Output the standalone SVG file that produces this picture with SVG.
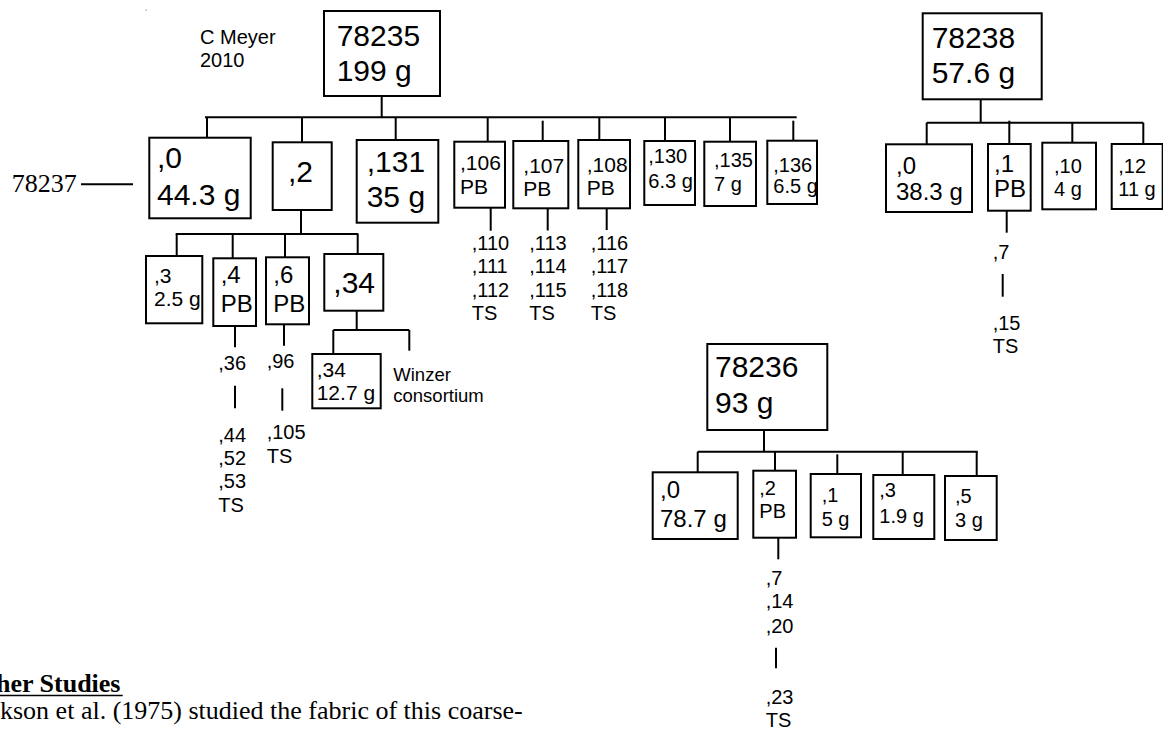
<svg xmlns="http://www.w3.org/2000/svg" width="1163" height="729" viewBox="0 0 1163 729">
<style>
.bx{fill:#fff;stroke:#000;stroke-width:2}
.ln{stroke:#000;stroke-width:2;fill:none}
text{font-family:"Liberation Sans",Arial,sans-serif;fill:#000}
.f30{font-size:30px}
.f24{font-size:24px}
.f21{font-size:21px}
.f20{font-size:20px}
.f18{font-size:18.5px}
.tm{font-family:"Liberation Serif","Times New Roman",serif;font-size:26px}
.tmb{font-family:"Liberation Serif","Times New Roman",serif;font-size:26px;font-weight:bold}
</style>
<rect width="1163" height="729" fill="#fff"/>
<rect x="145.5" y="9.5" width="1.2" height="1.2" fill="#888"/>

<g id="connectors">
  <line class="ln" x1="81" y1="184.3" x2="133" y2="184.3"/>
  <!-- tree 78235 level 1 -->
  <line class="ln" x1="381.7" y1="96" x2="381.7" y2="117.3"/>
  <line class="ln" x1="205" y1="117.3" x2="796.7" y2="117.3"/>
  <line class="ln" x1="207" y1="117.3" x2="207" y2="137.7"/>
  <line class="ln" x1="302" y1="117.3" x2="302" y2="142.3"/>
  <line class="ln" x1="395.7" y1="117.3" x2="395.7" y2="140"/>
  <line class="ln" x1="487.7" y1="117.3" x2="487.7" y2="141.7"/>
  <line class="ln" x1="542.7" y1="120.7" x2="542.7" y2="141"/>
  <line class="ln" x1="599.3" y1="117.3" x2="599.3" y2="140"/>
  <line class="ln" x1="665" y1="117.3" x2="665" y2="141"/>
  <line class="ln" x1="730" y1="117.3" x2="730" y2="141.7"/>
  <line class="ln" x1="793.3" y1="120.7" x2="793.3" y2="140.7"/>
  <line class="ln" x1="490.7" y1="207.7" x2="490.7" y2="230.7"/>
  <line class="ln" x1="547.7" y1="208.3" x2="547.7" y2="230.5"/>
  <line class="ln" x1="606.7" y1="208.3" x2="606.7" y2="230"/>
  <!-- level 2 under ,2 -->
  <line class="ln" x1="301" y1="210" x2="301" y2="234"/>
  <line class="ln" x1="175.7" y1="234" x2="358.3" y2="234"/>
  <line class="ln" x1="176.7" y1="234" x2="176.7" y2="256"/>
  <line class="ln" x1="232.7" y1="234" x2="232.7" y2="258.3"/>
  <line class="ln" x1="285" y1="234" x2="285" y2="257.3"/>
  <line class="ln" x1="357.7" y1="234" x2="357.7" y2="254"/>
  <line class="ln" x1="356.7" y1="310.7" x2="356.7" y2="330"/>
  <line class="ln" x1="333.3" y1="330" x2="409.3" y2="330"/>
  <line class="ln" x1="333.3" y1="330" x2="333.3" y2="354"/>
  <line class="ln" x1="409.3" y1="330" x2="409.3" y2="350.7"/>
  <line class="ln" x1="235" y1="326" x2="235" y2="347.3"/>
  <line class="ln" x1="235" y1="385.7" x2="235" y2="408.3"/>
  <line class="ln" x1="284" y1="324.3" x2="284" y2="345.7"/>
  <line class="ln" x1="282.3" y1="388.3" x2="282.3" y2="410.7"/>
  <!-- tree 78238 -->
  <line class="ln" x1="980.7" y1="99.3" x2="980.7" y2="122.7"/>
  <line class="ln" x1="926.7" y1="122.7" x2="1143.3" y2="122.7"/>
  <line class="ln" x1="926.7" y1="122.7" x2="926.7" y2="144.3"/>
  <line class="ln" x1="1009.3" y1="120.7" x2="1009.3" y2="144"/>
  <line class="ln" x1="1072.3" y1="122.7" x2="1072.3" y2="142.7"/>
  <line class="ln" x1="1143.3" y1="122.7" x2="1143.3" y2="144"/>
  <line class="ln" x1="1006.7" y1="210.7" x2="1006.7" y2="232.7"/>
  <line class="ln" x1="1002.7" y1="274" x2="1002.7" y2="296.7"/>
  <!-- tree 78236 -->
  <line class="ln" x1="764" y1="430" x2="764" y2="451.7"/>
  <line class="ln" x1="697.7" y1="451.7" x2="977.7" y2="451.7"/>
  <line class="ln" x1="697.7" y1="451.7" x2="697.7" y2="472.3"/>
  <line class="ln" x1="775" y1="451.7" x2="775" y2="472.7"/>
  <line class="ln" x1="837.3" y1="454.3" x2="837.3" y2="474"/>
  <line class="ln" x1="902.7" y1="451.7" x2="902.7" y2="475"/>
  <line class="ln" x1="976.7" y1="451.7" x2="976.7" y2="476"/>
  <line class="ln" x1="778.3" y1="537.7" x2="778.3" y2="559.3"/>
  <line class="ln" x1="776" y1="647.7" x2="776" y2="668.3"/>
</g>

<g id="note-meyer"><text class="f20" x="200" y="44">C Meyer</text><text class="f20" x="200" y="66.7">2010</text></g>
<g id="label-78237"><text class="tm" x="11.7" y="191.7">78237</text></g>

<g id="n78235"><rect class="bx" x="324" y="11" width="116" height="85"/><text class="f30" x="336.7" y="46">78235</text><text class="f30" x="336.7" y="81">199 g</text></g>
<g id="n78235-0"><rect class="bx" x="149.3" y="137.7" width="101.4" height="80.6"/><text class="f30" x="157" y="167.7">,0</text><text class="f30" x="157" y="205">44.3 g</text></g>
<g id="n78235-2"><rect class="bx" x="272.7" y="142.3" width="59" height="67.7"/><text class="f30" x="288" y="181.7">,2</text></g>
<g id="n78235-131"><rect class="bx" x="356.7" y="140" width="81.6" height="82.7"/><text class="f30" x="366.7" y="171.7">,131</text><text class="f30" x="366.7" y="207">35 g</text></g>
<g id="n78235-106"><rect class="bx" x="454.3" y="141.7" width="50.7" height="66"/><text class="f21" x="460" y="170">,106</text><text class="f21" x="460" y="194.3">PB</text></g>
<g id="n78235-107"><rect class="bx" x="513.3" y="141" width="55" height="67.3"/><text class="f21" x="523.3" y="172.7">,107</text><text class="f21" x="523.3" y="195.7">PB</text></g>
<g id="n78235-108"><rect class="bx" x="578.3" y="140" width="51.7" height="68.3"/><text class="f21" x="586.7" y="172">,108</text><text class="f21" x="586.7" y="195">PB</text></g>
<g id="n78235-130"><rect class="bx" x="644.3" y="141" width="50.7" height="64"/><text class="f20" x="648.3" y="163.3">,130</text><text class="f20" x="648.3" y="188.3">6.3 g</text></g>
<g id="n78235-135"><rect class="bx" x="704.3" y="141.7" width="51.7" height="64.3"/><text class="f20" x="714" y="166.7">,135</text><text class="f20" x="714" y="190.7">7 g</text></g>
<g id="n78235-136"><rect class="bx" x="767.3" y="140.7" width="49.7" height="63.3"/><text class="f20" x="773.3" y="171.7">,136</text><text class="f20" x="773.3" y="192.7">6.5 g</text></g>
<g id="list-106"><text class="f20" x="471.7" y="250">,110</text><text class="f20" x="471.7" y="273.3">,111</text><text class="f20" x="471.7" y="296.7">,112</text><text class="f20" x="471.7" y="320">TS</text></g>
<g id="list-107"><text class="f20" x="529.3" y="250">,113</text><text class="f20" x="529.3" y="273.3">,114</text><text class="f20" x="529.3" y="296.7">,115</text><text class="f20" x="529.3" y="320">TS</text></g>
<g id="list-108"><text class="f20" x="590.7" y="250">,116</text><text class="f20" x="590.7" y="273.3">,117</text><text class="f20" x="590.7" y="296.7">,118</text><text class="f20" x="590.7" y="320">TS</text></g>

<g id="n2-3"><rect class="bx" x="146" y="256" width="56.3" height="67.3"/><text class="f21" x="154" y="283.3">,3</text><text class="f21" x="154" y="306">2.5 g</text></g>
<g id="n2-4"><rect class="bx" x="213.3" y="258.3" width="42.7" height="67.7"/><text class="f24" x="220.7" y="283.3">,4</text><text class="f24" x="220.7" y="311.7">PB</text></g>
<g id="n2-6"><rect class="bx" x="266" y="257.3" width="43" height="67"/><text class="f24" x="273.3" y="283.3">,6</text><text class="f24" x="273.3" y="311.7">PB</text></g>
<g id="n2-34"><rect class="bx" x="324.3" y="254" width="59" height="56.7"/><text class="f30" x="333.3" y="292.7">,34</text></g>
<g id="n34-34"><rect class="bx" x="312.3" y="354" width="68.4" height="54.3"/><text class="f21" x="316.7" y="376.7">,34</text><text class="f21" x="316.7" y="400">12.7 g</text></g>
<g id="winzer"><text class="f18" x="393.3" y="381">Winzer</text><text class="f18" x="393.3" y="402">consortium</text></g>
<g id="list-4"><text class="f20" x="218.3" y="370">,36</text><text class="f20" x="218.3" y="441.7">,44</text><text class="f20" x="218.3" y="465">,52</text><text class="f20" x="218.3" y="488.3">,53</text><text class="f20" x="218.3" y="511.7">TS</text></g>
<g id="list-6"><text class="f20" x="266.7" y="368.3">,96</text><text class="f20" x="266.7" y="439.3">,105</text><text class="f20" x="266.7" y="462.7">TS</text></g>

<g id="n78238"><rect class="bx" x="922.7" y="13.3" width="119" height="86"/><text class="f30" x="931.7" y="47.7">78238</text><text class="f30" x="931.7" y="83.3">57.6 g</text></g>
<g id="n78238-0"><rect class="bx" x="886" y="144.3" width="86" height="67.7"/><text class="f24" x="896" y="174">,0</text><text class="f24" x="896" y="200">38.3 g</text></g>
<g id="n78238-1"><rect class="bx" x="988" y="144" width="42.7" height="66.7"/><text class="f24" x="994" y="171.7">,1</text><text class="f24" x="994" y="196.7">PB</text></g>
<g id="n78238-10"><rect class="bx" x="1042.3" y="142.7" width="53.7" height="66.6"/><text class="f20" x="1054" y="172.7">,10</text><text class="f20" x="1054" y="196">4 g</text></g>
<g id="n78238-12"><rect class="bx" x="1111.7" y="144" width="51" height="65"/><text class="f20" x="1118.3" y="172.7">,12</text><text class="f20" x="1118.3" y="196">11 g</text></g>
<g id="list-78238-1"><text class="f20" x="992.7" y="259.3">,7</text><text class="f20" x="992.7" y="330">,15</text><text class="f20" x="992.7" y="352.7">TS</text></g>

<g id="n78236"><rect class="bx" x="707.3" y="344" width="120" height="86"/><text class="f30" x="715" y="376.7">78236</text><text class="f30" x="715" y="413.3">93 g</text></g>
<g id="n78236-0"><rect class="bx" x="652.7" y="472.3" width="85" height="66.7"/><text class="f24" x="660" y="498.3">,0</text><text class="f24" x="660" y="526.7">78.7 g</text></g>
<g id="n78236-2"><rect class="bx" x="753.3" y="470.7" width="42.7" height="67"/><text class="f20" x="759.3" y="495">,2</text><text class="f20" x="759.3" y="518.3">PB</text></g>
<g id="n78236-1"><rect class="bx" x="810.7" y="474" width="50.3" height="63.3"/><text class="f20" x="821.7" y="501.7">,1</text><text class="f20" x="821.7" y="526">5 g</text></g>
<g id="n78236-3"><rect class="bx" x="873.3" y="475" width="61" height="64"/><text class="f20" x="879.3" y="496.7">,3</text><text class="f20" x="879.3" y="522.7">1.9 g</text></g>
<g id="n78236-5"><rect class="bx" x="945" y="476" width="51.7" height="64"/><text class="f20" x="955" y="503.3">,5</text><text class="f20" x="955" y="526.7">3 g</text></g>
<g id="list-78236-2"><text class="f20" x="765.7" y="585">,7</text><text class="f20" x="765.7" y="608.3">,14</text><text class="f20" x="765.7" y="632.7">,20</text><text class="f20" x="765.7" y="704">,23</text><text class="f20" x="765.7" y="726.7">TS</text></g>

<g id="page-text">
  <text class="tmb" x="-4" y="691.7">her Studies</text>
  <line x1="0" y1="695.5" x2="122.7" y2="695.5" stroke="#000" stroke-width="1.5"/>
  <text class="tm" x="0" y="719.3">kson et al. (1975) studied the fabric of this coarse-</text>
</g>
</svg>
